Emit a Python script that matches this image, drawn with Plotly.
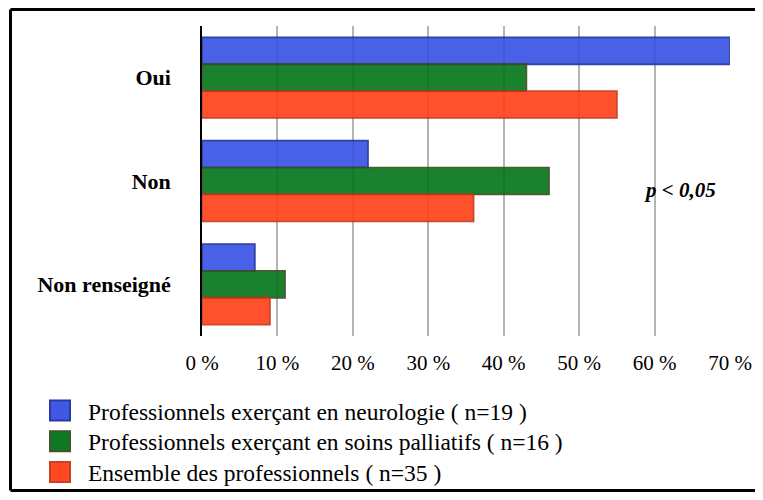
import plotly.graph_objects as go

# data
categories = ["Oui", "Non", "Non renseigné"]
series_names = [
    "Professionnels exerçant en neurologie ( n=19 )",
    "Professionnels exerçant en soins palliatifs ( n=16 )",
    "Ensemble des professionnels ( n=35 )",
]
neuro = [70, 22, 7]
palliatifs = [43, 46, 11]
ensemble = [55, 36, 9]
x_ticks = [0, 10, 20, 30, 40, 50, 60, 70]
x_ticklabels = [f"{v} %" for v in x_ticks]

fills = ["rgb(53,81,229)", "rgb(2,116,25)", "rgb(255,63,22)"]
borders = ["rgb(31,47,154)", "rgb(58,74,30)", "rgb(200,50,26)"]

# page body has an 8px margin; size the figure so the page does not scroll
OFF = 8
W, H = 763 - 2 * OFF, 500 - 2 * OFF
plot_left, plot_right, plot_top, plot_bottom = 202, 730, 26, 336
L, T = plot_left - OFF, plot_top - OFF
R = W - (plot_right - OFF)
B = H - (plot_bottom - OFF)
pw, ph = plot_right - plot_left, plot_bottom - plot_top


def px2x(px):
    return (px - plot_left) / pw


def px2y(py):
    return (plot_bottom - py) / ph


fig = go.Figure()
for name, vals, fc, lc in zip(series_names, [neuro, palliatifs, ensemble], fills, borders):
    fig.add_trace(go.Bar(
        y=categories, x=vals, name=name, orientation="h",
        marker=dict(color=fc, line=dict(color=lc, width=1.8)),
        opacity=0.9, showlegend=False,
    ))

serif = "Liberation Serif"

fig.update_layout(
    width=W, height=H,
    margin=dict(l=L, r=R, t=T, b=B),
    barmode="group", bargap=0.22, bargroupgap=0,
    paper_bgcolor="white", plot_bgcolor="white",
    font=dict(family=serif, color="black"),
)
fig.update_xaxes(
    range=[0, 70], tickvals=x_ticks, ticktext=x_ticklabels,
    showgrid=True, gridcolor="#b4b4b4", gridwidth=2,
    zeroline=False, showline=False, automargin=False,
    tickfont=dict(size=21, family=serif, color="black"),
    ticklabelstandoff=12,
)
fig.update_yaxes(
    autorange="reversed", showgrid=False, zeroline=False,
    showline=True, linecolor="black", linewidth=1.5, automargin=False,
    tickfont=dict(size=22, family=serif, color="black", weight="bold"),
    ticklabelstandoff=25,
)

# frame: top, left and bottom edges (right edge lies off the page)
frame = dict(color="black", width=3)
shapes = [
    dict(type="line", xref="paper", yref="paper", x0=px2x(10.5), x1=px2x(800),
         y0=px2y(9.5), y1=px2y(9.5), line=frame),
    dict(type="line", xref="paper", yref="paper", x0=px2x(10.5), x1=px2x(10.5),
         y0=px2y(9.5), y1=px2y(490.5), line=frame),
    dict(type="line", xref="paper", yref="paper", x0=px2x(10.5), x1=px2x(800),
         y0=px2y(490.5), y1=px2y(490.5), line=frame),
]

# manual legend
annotations = []
for i, (name, fc, lc) in enumerate(zip(series_names, fills, borders)):
    cy = 410.5 + i * 30.8
    shapes.append(dict(type="rect", xref="paper", yref="paper",
                       x0=px2x(50), x1=px2x(70), y0=px2y(cy - 10), y1=px2y(cy + 10),
                       fillcolor=fc, opacity=0.95, line=dict(color=lc, width=2)))
    annotations.append(dict(x=px2x(86), y=px2y(cy + 1), xref="paper", yref="paper",
                            text=name, showarrow=False, xanchor="left", yanchor="middle",
                            font=dict(size=23.5, family=serif, color="black")))

annotations.append(dict(x=px2x(680), y=px2y(190), xref="paper", yref="paper",
                        text="<b><i>p &lt; 0,05</i></b>", showarrow=False,
                        xanchor="center", yanchor="middle",
                        font=dict(size=21, family=serif, color="black")))

fig.update_layout(shapes=shapes, annotations=annotations)

fig.write_html("out.html")
